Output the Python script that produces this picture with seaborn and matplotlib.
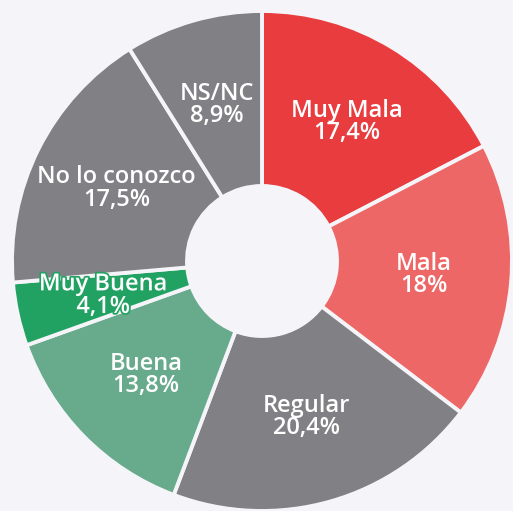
import matplotlib
matplotlib.use("Agg")
import matplotlib.pyplot as plt
import matplotlib.patheffects as pe
import seaborn as sns

categories = ["Muy Mala", "Mala", "Regular", "Buena", "Muy Buena", "No lo conozco", "NS/NC"]
values = [17.4, 18.0, 20.4, 13.8, 4.1, 17.5, 8.9]
pct_labels = ["17,4%", "18%", "20,4%", "13,8%", "4,1%", "17,5%", "8,9%"]
colors = ["#E83C3E", "#EE6767", "#818185", "#68AA8C", "#22A262", "#818185", "#818185"]

bg = "#F4F4F9"
sns.set_theme(style="white")
plt.rcParams["font.family"] = ["Open Sans", "DejaVu Sans"]

fig = plt.figure(figsize=(5.13, 5.11), dpi=100, facecolor=bg)
ax = fig.add_axes([0, 0, 1, 1])
ax.set_facecolor(bg)

labels = [f"{c}\n{p}" for c, p in zip(categories, pct_labels)]
wedges, texts = ax.pie(
    values,
    labels=labels,
    colors=sns.color_palette(colors),
    startangle=90,
    counterclock=False,
    radius=1.0,
    labeldistance=0.65,
    wedgeprops=dict(width=0.70, edgecolor=bg, linewidth=2.8, joinstyle="round"),
    textprops=dict(color="white", fontsize=17, fontweight="semibold"),
)
for t, c in zip(texts, colors):
    t.set_ha("center")
    t.set_va("center")
    t.set_multialignment("center")
    t.set_linespacing(0.92)
texts[4].set_path_effects([pe.Stroke(linewidth=2.5, foreground="#22A262"), pe.Normal()])

ax.set_xlim(-1.048, 1.004)
ax.set_ylim(-1.0, 1.044)
ax.set_aspect("equal", adjustable="datalim")
ax.axis("off")

fig.savefig("out.png", dpi=100, facecolor=bg)
